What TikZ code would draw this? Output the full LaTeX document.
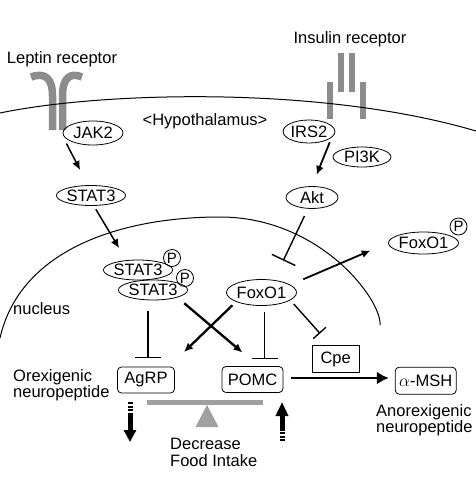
\documentclass[tikz,border=0pt]{standalone}
\usepackage{amsmath}
\usepackage{xcolor}
\usepackage{fontspec}
\setmainfont{Liberation Sans}
\usepackage{tikz}
\usetikzlibrary{arrows.meta,shapes.geometric,calc}
\definecolor{recg}{HTML}{8C8C8C}
\definecolor{seeg}{HTML}{A0A0A0}

\begin{document}
\begin{tikzpicture}[x=1pt,y=-1pt,>=Latex,
  mol/.style={draw,line width=0.8pt,ellipse,inner sep=0pt,font=\fontsize{16.5}{18}\selectfont},
  gene/.style={draw,line width=0.8pt,rounded corners=4pt,inner sep=0pt,font=\fontsize{16.5}{18}\selectfont},
  phos/.style={draw,line width=0.8pt,circle,inner sep=0pt,minimum size=17pt,font=\fontsize{15}{16}\selectfont},
  lbl/.style={inner sep=0pt,font=\fontsize{16.5}{16.7}\selectfont},
  act/.style={-{Latex[length=9pt,width=8pt]},line width=1.8pt},
  inh/.style={-{Bar[width=26pt]},line width=1.4pt},
  recep/.style={recg,line width=7.5pt},
  fat/.style={line width=5pt}]
\useasboundingbox (0,0) rectangle (476,477);
% ---------- receptors and membranes ----------
\draw[recep] (31,77) .. controls (45,72) and (52.5,78) .. (52.5,96) -- (52.5,130);
\draw[recep] (82,77) .. controls (70,72) and (62.5,78) .. (62.5,96) -- (62.5,130);
\foreach \x in {341,352} \draw[recg,line width=5.5pt] (\x,53) -- (\x,92);
\foreach \x in {330,363} \draw[recg,line width=5.5pt] (\x,82) -- (\x,119);
\draw[line width=1pt] (0,113) .. controls (100,92) and (320,85) .. (476,131);
\draw[line width=1pt] (0,338) .. controls (20,250) and (120,217) .. (220,217)
  .. controls (320,217) and (382,300) .. (380,325);
% ---------- labels ----------
\node[lbl,anchor=base] (leplbl) at (62,63) {Leptin receptor};
\node[lbl,anchor=base] (inslbl) at (350,43.5) {Insulin receptor};
\node[lbl,anchor=base] (hypo) at (205,125) {<Hypothalamus>};
\node[lbl,anchor=base west] (nuclbl) at (13,314) {nucleus};
\node[lbl,anchor=north west,align=left] (orexlbl) at (13,369) {Orexigenic\\neuropeptide};
\node[lbl,anchor=north west,align=left] (anorlbl) at (376,404) {Anorexigenic\\neuropeptide};
\node[lbl,anchor=north west,align=left] (foodlbl) at (170,438) {Decrease\\Food Intake};
% ---------- molecules ----------
\node[mol,minimum width=60pt,minimum height=24pt] (jak) at (93,133) {JAK2};
\node[mol,minimum width=58pt,minimum height=20pt] (stat) at (91,195.5) {STAT3};
\node[mol,minimum width=59pt,minimum height=20pt] (dimA) at (138,270) {STAT3};
\node[mol,minimum width=57pt,minimum height=20pt] (dimB) at (153,290) {STAT3};
\node[phos] (pA) at (172,258) {P};
\node[phos] (pB) at (185,278) {P};
\node[mol,minimum width=50pt,minimum height=23pt] (irs) at (309,131.5) {IRS2};
\node[mol,minimum width=58pt,minimum height=20pt] (pik) at (362,157) {PI3K};
\node[mol,minimum width=52pt,minimum height=22pt] (akt) at (312,197.5) {Akt};
\node[mol,minimum width=67pt,minimum height=26pt] (fox) at (261.5,292.5) {FoxO1};
\node[mol,minimum width=63pt,minimum height=22pt] (foxc) at (423.5,243) {FoxO1};
\node[phos] (pC) at (458.5,226.5) {P};
% ---------- genes ----------
\node[gene,minimum width=57pt,minimum height=26pt] (agrp) at (146,380) {AgRP};
\node[gene,minimum width=61pt,minimum height=26pt] (pomc) at (252.5,379.5) {POMC};
\node[gene,rounded corners=0pt,minimum width=47pt,minimum height=27pt] (cpe) at (335.7,359.3) {Cpe};
\node[gene,minimum width=61pt,minimum height=27pt] (msh) at (425.7,380.7) {$\alpha$-MSH};
% ---------- signalling ----------
\draw[act,line width=1.5pt,shorten <=2pt,shorten >=17pt] ($(jak.south west)+(-6pt,0)$) -- ($(stat.north)+(-3pt,0)$);
\draw[act,line width=1.5pt,shorten <=4pt,shorten >=14pt] (stat.-75) -- (dimA.140);
\draw[act,shorten <=5pt,shorten >=12pt] (irs.-15) -- (akt.north);
\draw[inh,shorten <=8pt,shorten >=21.5pt] (akt.-110) -- (fox.45);
\draw[act,shorten <=14pt,shorten >=19pt] (fox.15) -- (foxc.west);
\draw[inh,shorten <=11pt,shorten >=8.5pt] ($(agrp.north |- dimB.south)+(2pt,0)$) -- ($(agrp.north)+(2pt,0)$);
\draw[act,line width=2.3pt,shorten <=5pt,shorten >=21pt] (fox.200) -- ($(agrp.north east)+(-6pt,0)$);
\draw[act,line width=2.3pt,shorten <=9pt,shorten >=21pt] (dimB.-17) -- ($(pomc.north)+(6pt,0)$);
\draw[inh,shorten <=6.5pt,shorten >=7pt] ($(pomc.north |- fox.south)+(12pt,0)$) -- ($(pomc.north)+(12pt,0)$);
\draw[-{Bar[width=17pt]},line width=1.4pt,shorten <=5pt,shorten >=16pt] (fox.-15) -- ($(cpe.north)+(-5pt,0)$);
\draw[-{Latex[length=12pt,width=13pt]},line width=2.6pt,shorten <=8pt,shorten >=6pt]
  ($(pomc.east)+(0,1.5pt)$) -- ($(pomc.east -| msh.west)+(0,1.5pt)$);
% ---------- balance ----------
\fill[seeg] (147,399.5) rectangle (263,404.5);
\fill[seeg] (207,405) -- (195.5,427) -- (218.5,427) -- cycle;
\draw[fat,dash pattern=on 2pt off 1.5pt] (130,402) -- (130,413);
\draw[fat,-{Triangle[length=12pt,width=12pt]}] (130,412.5) -- (130,442);
\draw[fat,dash pattern=on 2pt off 1.5pt] (282,441) -- (282,430);
\draw[fat,-{Triangle[length=14pt,width=12pt]}] (282,430.5) -- (282,402);
\end{tikzpicture}
\end{document}
